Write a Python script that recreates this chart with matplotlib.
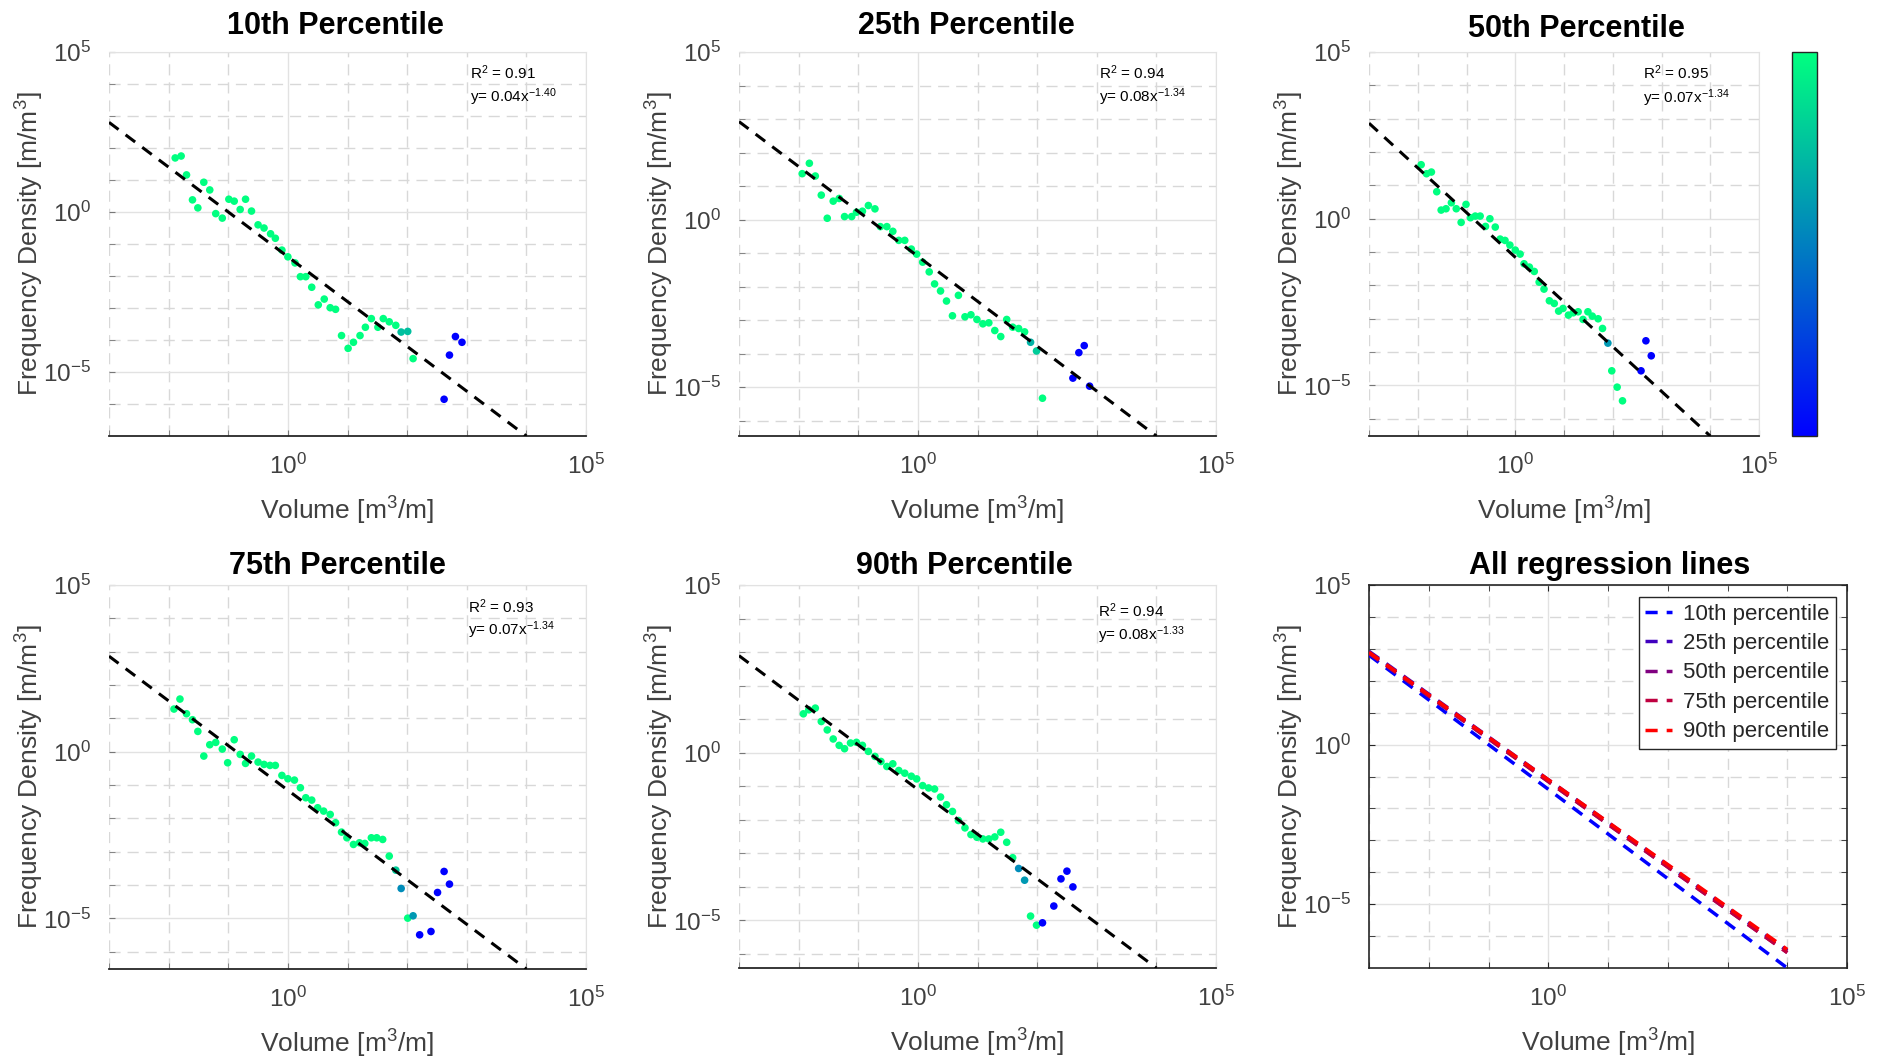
import numpy as np
import matplotlib
matplotlib.use('Agg')
import matplotlib.pyplot as plt
from matplotlib.ticker import FixedLocator, LogLocator, LogFormatterMathtext, NullFormatter
from matplotlib.cm import ScalarMappable
from matplotlib.colors import Normalize

plt.rcParams['font.family'] = ['Liberation Sans', 'DejaVu Sans']
plt.rcParams['mathtext.fontset'] = 'custom'
plt.rcParams['mathtext.rm'] = 'Liberation Sans'
plt.rcParams['mathtext.it'] = 'Liberation Sans:italic'
plt.rcParams['mathtext.bf'] = 'Liberation Sans:bold'
plt.rcParams['mathtext.default'] = 'regular'

# ---------------- data (log10 values) ----------------
p10_logx = [-1.89, -1.79, -1.70, -1.60, -1.51, -1.41, -1.31, -1.21, -1.10, -0.99,
            -0.90, -0.80, -0.71, -0.61, -0.50, -0.40, -0.29, -0.21, -0.10, 0.00,
            0.12, 0.21, 0.30, 0.40, 0.51, 0.61, 0.71, 0.80, 0.90, 1.01,
            1.10, 1.21, 1.30, 1.40, 1.51, 1.60, 1.70, 1.81, 1.90, 2.01,
            2.10, 2.62, 2.71, 2.81, 2.92]
p10_logy = [1.69, 1.75, 1.16, 0.38, 0.13, 0.93, 0.69, -0.05, -0.19, 0.40,
            0.34, 0.08, 0.40, 0.03, -0.40, -0.50, -0.68, -0.82, -1.19, -1.40,
            -1.59, -2.02, -2.02, -2.35, -2.90, -2.72, -2.99, -3.04, -3.86, -4.26,
            -4.07, -3.86, -3.60, -3.33, -3.60, -3.33, -3.43, -3.54, -3.75, -3.73,
            -4.58, -5.85, -4.47, -3.89, -4.07]
p10_c = [1.0] * 38 + [0.75, 0.75, 1.0] + [0.0] * 4

p25_logx = [-1.94, -1.82, -1.72, -1.62, -1.52, -1.42, -1.32, -1.23, -1.11, -1.03,
            -0.93, -0.83, -0.72, -0.63, -0.52, -0.42, -0.32, -0.22, -0.11, -0.02,
            0.08, 0.19, 0.28, 0.38, 0.48, 0.58, 0.68, 0.79, 0.89, 0.99,
            1.09, 1.19, 1.29, 1.39, 1.49, 1.59, 1.69, 1.79, 1.89, 1.99,
            2.09, 2.60, 2.70, 2.79, 2.88]
p25_logy = [1.37, 1.68, 1.30, 0.73, 0.04, 0.55, 0.63, 0.09, 0.09, 0.22,
            0.25, 0.42, 0.32, -0.21, -0.21, -0.35, -0.62, -0.62, -0.88, -1.03,
            -1.27, -1.56, -1.92, -2.13, -2.43, -2.87, -2.26, -2.90, -2.84, -2.98,
            -3.11, -3.08, -3.31, -3.49, -2.98, -3.21, -3.25, -3.35, -3.66, -3.92,
            -5.33, -4.73, -3.97, -3.76, -4.97]
p25_c = [1.0] * 38 + [0.7, 0.8, 1.0] + [0.0] * 4

p50_logx = [-1.93, -1.82, -1.72, -1.61, -1.52, -1.42, -1.31, -1.21, -1.11, -1.01,
            -0.92, -0.82, -0.72, -0.61, -0.52, -0.41, -0.31, -0.21, -0.11, 0.00,
            0.10, 0.18, 0.29, 0.39, 0.49, 0.59, 0.70, 0.80, 0.89, 0.98,
            1.09, 1.19, 1.29, 1.39, 1.49, 1.58, 1.70, 1.79, 1.90, 1.98,
            2.09, 2.20, 2.58, 2.68, 2.79]
p50_logy = [1.62, 1.35, 1.40, 0.81, 0.26, 0.30, 0.48, 0.30, -0.11, 0.43,
            0.03, 0.08, 0.08, -0.23, 0.00, -0.25, -0.61, -0.65, -0.79, -0.94,
            -1.06, -1.35, -1.45, -1.58, -1.90, -2.11, -2.46, -2.54, -2.77, -2.69,
            -2.89, -2.82, -2.79, -3.02, -2.79, -2.92, -3.00, -3.29, -3.73, -4.56,
            -5.05, -5.46, -4.56, -3.66, -4.11]
p50_c = [1.0] * 38 + [0.6, 1.0, 1.0, 1.0] + [0.0] * 3

p75_logx = [-1.91, -1.81, -1.70, -1.60, -1.51, -1.41, -1.31, -1.21, -1.10, -1.01,
            -0.90, -0.80, -0.71, -0.61, -0.50, -0.40, -0.30, -0.21, -0.10, 0.00,
            0.11, 0.21, 0.30, 0.40, 0.50, 0.60, 0.71, 0.80, 0.90, 0.99,
            1.10, 1.20, 1.29, 1.40, 1.49, 1.59, 1.70, 1.81, 1.90, 2.01,
            2.10, 2.21, 2.40, 2.51, 2.62, 2.71]
p75_logy = [1.28, 1.58, 1.14, 0.96, 0.61, -0.13, 0.21, 0.28, 0.08, -0.33,
            0.36, -0.08, -0.35, -0.13, -0.31, -0.38, -0.41, -0.41, -0.71, -0.81,
            -0.85, -1.08, -1.38, -1.45, -1.68, -1.78, -1.88, -2.13, -2.41, -2.58,
            -2.78, -2.73, -2.75, -2.58, -2.58, -2.63, -3.13, -3.55, -4.10, -4.99,
            -4.92, -5.49, -5.39, -4.22, -3.59, -3.97]
p75_c = [1.0] * 37 + [0.8, 0.55, 1.0, 0.6] + [0.0] * 5

p90_logx = [-1.92, -1.83, -1.72, -1.62, -1.52, -1.42, -1.32, -1.23, -1.13, -1.03,
            -0.93, -0.83, -0.72, -0.62, -0.52, -0.42, -0.32, -0.22, -0.11, -0.02,
            0.08, 0.18, 0.28, 0.38, 0.48, 0.58, 0.68, 0.79, 0.89, 0.99,
            1.09, 1.19, 1.29, 1.39, 1.49, 1.59, 1.69, 1.79, 1.89, 1.99,
            2.09, 2.28, 2.40, 2.50, 2.60]
p90_logy = [1.16, 1.28, 1.33, 0.93, 0.68, 0.41, 0.22, 0.12, 0.29, 0.31,
            0.22, 0.04, -0.11, -0.26, -0.41, -0.33, -0.53, -0.61, -0.70, -0.78,
            -0.98, -1.05, -1.08, -1.32, -1.55, -1.75, -2.02, -2.24, -2.44, -2.52,
            -2.57, -2.57, -2.51, -2.37, -2.67, -3.13, -3.45, -3.80, -4.87, -5.14,
            -5.07, -4.57, -3.76, -3.53, -4.00]
p90_c = [1.0] * 36 + [0.55, 0.6, 1.0, 1.0] + [0.0] * 5

titles = ['10th Percentile', '25th Percentile', '50th Percentile',
          '75th Percentile', '90th Percentile']
r2_values = [0.91, 0.94, 0.95, 0.93, 0.94]
coef_a = [0.04, 0.08, 0.07, 0.07, 0.08]
coef_b = [-1.40, -1.34, -1.34, -1.34, -1.33]
legend_labels = ['10th percentile', '25th percentile', '50th percentile',
                 '75th percentile', '90th percentile']
line_colors = ['#0000ff', '#4000bf', '#800080', '#bf0040', '#ff0000']
x_tick_values = [1e0, 1e5]
y_tick_values = [1e-5, 1e0, 1e5]

panels = [(p10_logx, p10_logy, p10_c), (p25_logx, p25_logy, p25_c),
          (p50_logx, p50_logy, p50_c), (p75_logx, p75_logy, p75_c),
          (p90_logx, p90_logy, p90_c)]

# ---------------- layout ----------------
W, H = 1887, 1061
fig = plt.figure(figsize=(W / 100, H / 100), dpi=100)


def rect(l, r, t, b):
    return [l / W, 1 - b / H, (r - l) / W, (b - t) / H]


rects = [rect(109, 586, 52, 436), rect(739, 1216, 52, 436), rect(1369, 1759, 52, 436),
         rect(109, 586, 585, 969), rect(739, 1216, 585, 968), rect(1369, 1847, 585, 968)]
title_x = [0.474, 0.476, 0.533, 0.478, 0.472, 0.504]
title_pad = [13, 13, 11, 8, 8, 8]
annot_pos = [(0.757, 0.947, 0.881), (0.754, 0.947, 0.881), (0.703, 0.945, 0.879),
             (0.752, 0.943, 0.883), (0.752, 0.932, 0.869)]

TXT = '#404040'
DARK = '#262626'


def style_axes(ax, boxed):
    ax.set_xscale('log')
    ax.set_yscale('log')
    ax.set_xlim(1e-3, 1e5)
    for axis, vals in ((ax.xaxis, x_tick_values), (ax.yaxis, y_tick_values)):
        axis.set_major_locator(FixedLocator(vals))
        axis.set_minor_locator(LogLocator(base=10, subs=(1.0,), numticks=40))
        axis.set_major_formatter(LogFormatterMathtext())
        axis.set_minor_formatter(NullFormatter())
    ax.grid(which='major', color='#e2e2e2', lw=1.0, ls='-')
    ax.grid(which='minor', color='#d8d8d8', lw=1.0, ls=(0, (8, 5)))
    ax.set_axisbelow(True)
    ax.tick_params(which='both', direction='in', length=4, color='#777777',
                   labelcolor=TXT, labelsize=17.5, pad=13)
    if boxed:
        for s in ax.spines.values():
            s.set_color(DARK)
            s.set_linewidth(1.2)
        ax.tick_params(which='both', top=True, right=True, color=DARK)
    else:
        ax.spines['left'].set_visible(False)
        ax.spines['top'].set_color('#e2e2e2')
        ax.spines['right'].set_color('#e2e2e2')
        ax.spines['bottom'].set_color(DARK)
        ax.spines['bottom'].set_linewidth(1.3)
    ax.set_xlabel('Volume [m$^3$/m]', fontsize=19, color=TXT, labelpad=11)
    ax.set_ylabel('Frequency Density [m/m$^3$]', fontsize=19, color=TXT, labelpad=-2)


x_line = np.logspace(-3, 4, 200)

for i, (lx, ly, cv) in enumerate(panels):
    ax = fig.add_axes(rects[i])
    style_axes(ax, False)
    a, b = coef_a[i], coef_b[i]
    ax.set_ylim(a * 1e4 ** b, 1e5)
    ax.scatter(10 ** np.array(lx), 10 ** np.array(ly), c=cv, cmap='winter',
               vmin=0, vmax=1, s=30, edgecolors='none', zorder=3)
    ax.plot(x_line, a * x_line ** b, color='black', lw=2.2,
            ls=(0, (3.9, 2.9)), zorder=4)
    fx, fy1, fy2 = annot_pos[i]
    ax.text(fx, fy1, 'R$^2$ = %.2f' % r2_values[i], transform=ax.transAxes,
            fontsize=11, va='center', ha='left', color='black')
    ax.text(fx, fy2, 'y= %.2fx$^{%.2f}$' % (a, b), transform=ax.transAxes,
            fontsize=11, va='center', ha='left', color='black')
    ax.set_title(titles[i], fontsize=22, fontweight='bold', color='black',
                 pad=title_pad[i], x=title_x[i])

# colorbar next to the 50th percentile panel
cax = fig.add_axes(rect(1792, 1817, 52, 436))
cb = fig.colorbar(ScalarMappable(norm=Normalize(0, 1), cmap='winter'), cax=cax)
cb.set_ticks([])
cb.outline.set_edgecolor(DARK)
cb.outline.set_linewidth(1.0)

# all regression lines
ax6 = fig.add_axes(rects[5])
style_axes(ax6, True)
lows = []
for a, b, col, lab in zip(coef_a, coef_b, line_colors, legend_labels):
    ax6.plot(x_line, a * x_line ** b, color=col, lw=2.5, ls=(0, (3.5, 2.6)),
             label=lab, zorder=3)
    lows.append(a * 1e4 ** b)
ax6.set_ylim(min(lows), 1e5)
ax6.set_title('All regression lines', fontsize=22, fontweight='bold', color='black',
              pad=title_pad[5], x=title_x[5])
leg = ax6.legend(loc='upper right', bbox_to_anchor=(0.977, 0.969), fontsize=16,
                 frameon=True, fancybox=False, edgecolor=DARK, framealpha=1,
                 handlelength=1.2, labelspacing=0.38, borderpad=0.3,
                 handletextpad=0.5, borderaxespad=0)
leg.get_frame().set_linewidth(1.0)
for t in leg.get_texts():
    t.set_color(DARK)

fig.savefig('out.png', dpi=100)
